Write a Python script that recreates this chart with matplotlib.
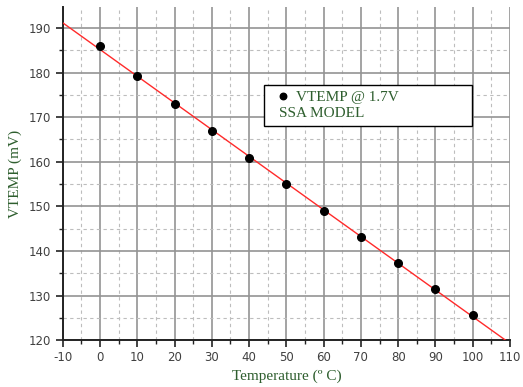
import numpy as np
import matplotlib.pyplot as plt
from matplotlib.ticker import MultipleLocator
from matplotlib.offsetbox import HPacker, DrawingArea

# VTEMP vs temperature
temp = [0, 10, 20, 30, 40, 50, 60, 70, 80, 90, 100]
vtemp = [185.9, 179.3, 173.0, 166.8, 160.8, 155.0, 149.0, 143.2, 137.3, 131.4, 125.7]

green = "#2e5e2e"
plt.rcParams["axes.unicode_minus"] = False

fig = plt.figure(figsize=(5.23, 3.87), dpi=100)
ax = fig.add_axes([0.120, 0.121, 0.855, 0.861])

# linear fit through the points
k, b = np.polyfit(temp, vtemp, 1)
xf = np.array([-10, 110])
ax.plot(xf, k * xf + b, color="#ff2a2a", lw=1.0, zorder=3)
ax.plot(temp, vtemp, "o", color="black", ms=5.5, zorder=4,
        label="VTEMP @ 1.7V")

ax.set_xlim(-10, 110)
ax.set_ylim(120, 194.7)
ax.xaxis.set_major_locator(MultipleLocator(10))
ax.xaxis.set_minor_locator(MultipleLocator(5))
ax.yaxis.set_major_locator(MultipleLocator(10))
ax.yaxis.set_minor_locator(MultipleLocator(5))

ax.grid(which="major", color="#939393", lw=1.2, ls="-")
ax.grid(which="minor", color="#bdbdbd", lw=0.8, ls=(0, (3, 3)))
ax.set_axisbelow(True)

for s in ("top", "right"):
    ax.spines[s].set_visible(False)
for s in ("left", "bottom"):
    ax.spines[s].set_color("#222222")
    ax.spines[s].set_linewidth(1.4)

ax.tick_params(which="major", length=5, width=1.2, color="#222222",
               labelsize=8.5, labelcolor="#404040")
ax.tick_params(which="minor", length=3, width=1.0, color="#222222")
ax.tick_params(axis="x", pad=3)

ax.set_xlabel("Temperature (º C)", family="Liberation Serif", fontsize=11,
              color=green, labelpad=4)
ax.set_ylabel("VTEMP (mV)", family="Liberation Serif", fontsize=11,
              color=green, labelpad=5)

leg = ax.legend(loc="upper left", bbox_to_anchor=(0.4497, 0.3, 0.465, 0.467),
                mode="expand", title="SSA MODEL", alignment="left",
                fancybox=False, edgecolor="black", framealpha=1,
                handlelength=1.8, handletextpad=-0.1, borderpad=0.38,
                borderaxespad=0, markerscale=0.85,
                prop={"family": "Liberation Serif", "size": 11})
leg.get_frame().set_linewidth(1.0)
leg.get_title().set_family("Liberation Serif")
leg.get_title().set_fontsize(11)
leg.get_title().set_color(green)
for t in leg.get_texts():
    t.set_color(green)
# put the title line under the entry, indented a little
box = leg._legend_box
title_row = HPacker(children=[DrawingArea(7, 1), leg._legend_title_box],
                    pad=0, sep=0)
box._children = [leg._legend_handle_box, title_row]
box.sep = 2

fig.savefig("out.png", dpi=100)
